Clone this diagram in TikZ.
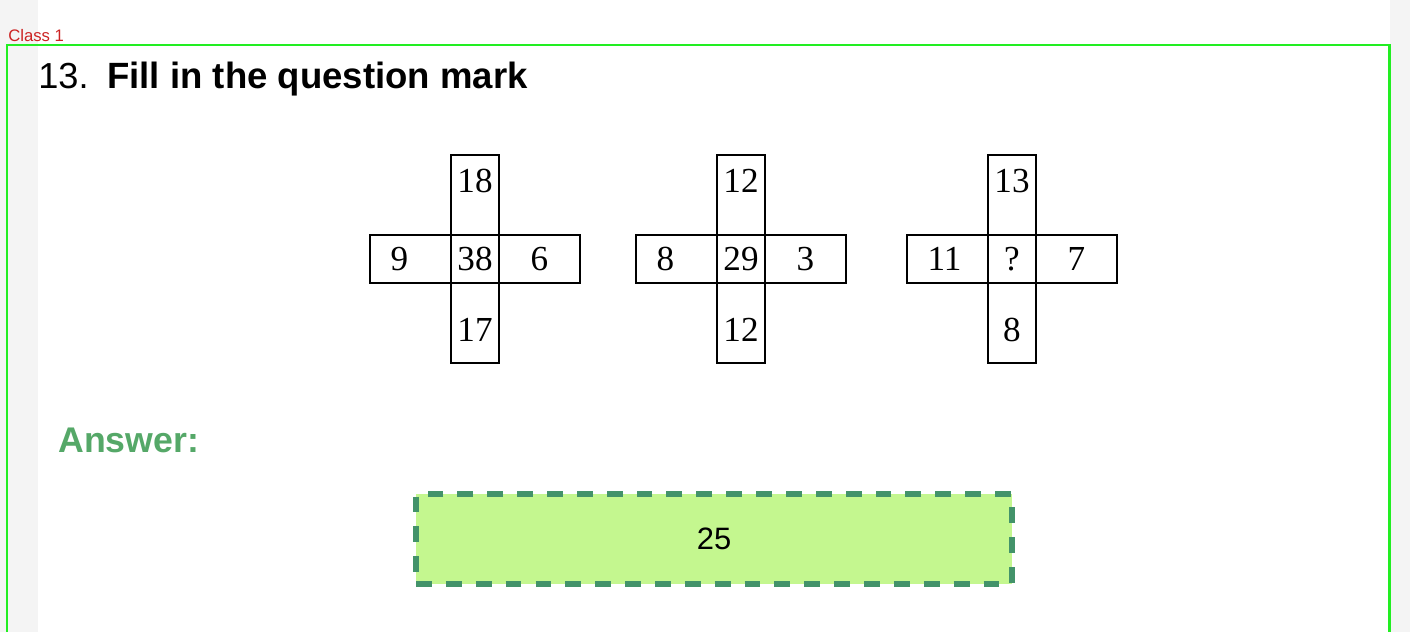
\documentclass[tikz,border=0pt]{standalone}
\usepackage{fontspec}
\setmainfont{Liberation Serif}
\setsansfont{Liberation Sans}
\usetikzlibrary{positioning}
\definecolor{framegreen}{HTML}{22EE22}
\definecolor{classred}{HTML}{CC2222}
\definecolor{answergreen}{HTML}{55A868}
\definecolor{boxfill}{HTML}{C4F78F}
\definecolor{boxdash}{HTML}{43936A}
\definecolor{pagegray}{HTML}{F4F4F4}

\begin{document}
\begin{tikzpicture}[x=0.02cm,y=-0.02cm,
  txt/.style={anchor=base west,inner sep=0pt},
  cell/.style={draw,line width=1.6pt,outer sep=0pt,inner sep=0pt,font=\fontsize{20}{22}\selectfont},
  mcell/.style={cell,minimum width=0.96cm,minimum height=0.96cm},
  hcell/.style={cell,minimum width=1.62cm,minimum height=0.96cm},
  vcell/.style={cell,minimum width=0.96cm,minimum height=1.6cm}]
\useasboundingbox (0,0) rectangle (1410,632);
\fill[white] (0,0) rectangle (1410,632);
\fill[pagegray] (0,0) rectangle (38,632);
\fill[pagegray] (1390,0) rectangle (1410,632);
\node[txt,text=classred,font=\sffamily\fontsize{9.5}{11}\selectfont] (tag) at (8,41) {Class 1};
\draw[framegreen,line width=1.7pt] (7,45) rectangle (1389,645);
\node[txt,font=\sffamily\fontsize{20.6}{24}\selectfont] (num) at (38,88) {13.};
\node[txt,font=\sffamily\bfseries\fontsize{20.8}{24}\selectfont] (title) at (107,88) {Fill in the question mark};
\foreach \i/\x/\n/\w/\m/\e/\s in {1/475/18/9/38/6/17,2/741/12/8/29/3/12,3/1012/13/11/?/7/8}{
  \node[mcell] (m\i) at (\x,259) {\m};
  \node[vcell,above=0pt of m\i,text height=0.48cm,text depth=0.58cm] (t\i) {\n};
  \node[vcell,below=0pt of m\i,text height=0.76cm,text depth=0pt] (b\i) {\s};
  \node[hcell,left=0pt of m\i] (l\i) {\makebox[0.8cm][l]{\w}};
  \node[hcell,right=0pt of m\i] (r\i) {\e};
}
\node[txt,text=answergreen,font=\sffamily\bfseries\fontsize{20.3}{23}\selectfont] (answer) at (58,452) {Answer:};
\node[draw=boxdash,fill=boxfill,line width=3.6pt,dash pattern=on 9pt off 8pt,
  minimum width=11.92cm,minimum height=1.8cm,font=\sffamily\fontsize{17.6}{20}\selectfont] (box) at (714,539) {25};
\end{tikzpicture}
\end{document}
